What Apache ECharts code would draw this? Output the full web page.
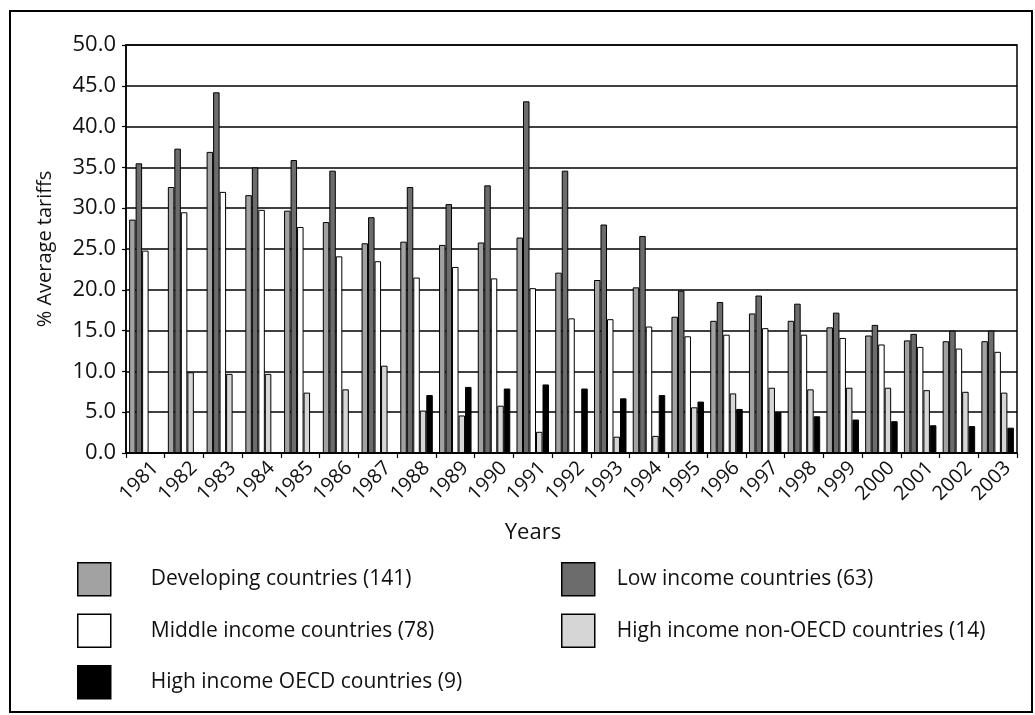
<!DOCTYPE html>
<html>
<head>
<meta charset="utf-8">
<script src="https://cdn.jsdelivr.net/npm/echarts@6/dist/echarts.min.js"></script>
<style>
html,body{margin:0;padding:0;background:#fff;}
#chart{width:1035px;height:715px;}
</style>
</head>
<body>
<div id="chart"></div>
<script>
var years = ['1981','1982','1983','1984','1985','1986','1987','1988','1989','1990','1991','1992','1993','1994','1995','1996','1997','1998','1999','2000','2001','2002','2003'];
var developing = [28.6, 32.6, 36.9, 31.6, 29.7, 28.3, 25.7, 25.9, 25.5, 25.8, 26.4, 22.1, 21.2, 20.3, 16.7, 16.2, 17.1, 16.2, 15.4, 14.4, 13.8, 13.7, 13.7];
var lowIncome = [35.5, 37.3, 44.2, 35.0, 35.9, 34.6, 28.9, 32.6, 30.5, 32.8, 43.1, 34.6, 28.0, 26.6, 19.9, 18.5, 19.3, 18.3, 17.2, 15.7, 14.6, 15.0, 15.0];
var middleIncome = [24.8, 29.5, 32.0, 29.8, 27.7, 24.1, 23.5, 21.5, 22.8, 21.4, 20.2, 16.5, 16.4, 15.5, 14.3, 14.5, 15.3, 14.5, 14.1, 13.3, 13.0, 12.8, 12.4];
var highNonOECD = [null, 9.9, 9.7, 9.7, 7.4, 7.8, 10.7, 5.2, 4.6, 5.8, 2.6, null, 2.0, 2.1, 5.6, 7.3, 8.0, 7.8, 8.0, 8.0, 7.7, 7.5, 7.4];
var highOECD = [null, null, null, null, null, null, null, 7.1, 8.1, 7.9, 8.4, 7.9, 6.7, 7.1, 6.3, 5.4, 5.0, 4.5, 4.1, 3.9, 3.4, 3.3, 3.1];
var seriesNames = ['Developing countries (141)', 'Low income countries (63)', 'Middle income countries (78)', 'High income non-OECD countries (14)', 'High income OECD countries (9)'];
var yTicks = ['0.0','5.0','10.0','15.0','20.0','25.0','30.0','35.0','40.0','45.0','50.0'];

var FONT = 'Open Sans';
var chart = echarts.init(document.getElementById('chart'), null, {renderer: 'canvas'});

function barSeries(name, data, fill) {
  return {
    name: name,
    type: 'bar',
    data: data,
    barWidth: 6.5,
    barGap: '0%',
    itemStyle: {color: fill, borderColor: '#000', borderWidth: 1},
    emphasis: {disabled: true},
    animation: false
  };
}

var option = {
  animation: false,
  backgroundColor: '#fff',
  grid: {left: 126, right: 18, top: 45, bottom: 262, show: true, borderColor: '#000', borderWidth: 1.5, backgroundColor: 'transparent'},
  xAxis: {
    type: 'category',
    data: years,
    name: 'Years',
    nameLocation: 'middle',
    nameGap: 69,
    nameTextStyle: {fontFamily: FONT, fontSize: 22, color: '#111', padding: [0, 77, 0, 0]},
    axisLine: {lineStyle: {color: '#000', width: 1.5}},
    axisTick: {show: true, length: 5, lineStyle: {color: '#000', width: 1.2}},
    axisLabel: {rotate: 45, fontFamily: FONT, fontSize: 20, color: '#111', margin: 2, interval: 0,
      verticalAlign: 'top', padding: [4, 0, 0, 0]}
  },
  yAxis: {
    type: 'value',
    min: 0, max: 50, interval: 5,
    name: '% Average tariffs',
    nameLocation: 'middle',
    nameRotate: 90,
    nameGap: 71,
    nameTextStyle: {fontFamily: FONT, fontSize: 20, color: '#111'},
    axisLine: {show: true, lineStyle: {color: '#000', width: 1.5}},
    axisTick: {show: true, length: 4, lineStyle: {color: '#000', width: 1.2}},
    axisLabel: {fontFamily: FONT, fontSize: 22, color: '#111', margin: 10,
      formatter: function (v) { return yTicks[Math.round(v / 5)]; }},
    splitLine: {show: true, lineStyle: {color: '#000', width: 1.5}}
  },
  legend: [
    {
      data: [seriesNames[0], seriesNames[2], seriesNames[4]],
      orient: 'vertical', left: 72, top: 557,
      icon: 'rect',
      itemWidth: 33, itemHeight: 33, itemGap: 17,
      selectedMode: false,
      itemStyle: {borderColor: '#000', borderWidth: 1.5},
      textStyle: {fontFamily: FONT, fontSize: 21, color: '#111', padding: [0, 0, 0, 35]}
    },
    {
      data: [seriesNames[1], seriesNames[3]],
      orient: 'vertical', left: 556, top: 557,
      icon: 'rect',
      itemWidth: 33, itemHeight: 33, itemGap: 17,
      selectedMode: false,
      itemStyle: {borderColor: '#000', borderWidth: 1.5},
      textStyle: {fontFamily: FONT, fontSize: 21, color: '#111', padding: [0, 0, 0, 17]}
    }
  ],
  graphic: [
    {type: 'rect', shape: {x: 10, y: 11, width: 1022, height: 701}, style: {fill: 'none', stroke: '#000', lineWidth: 2}, silent: true, z: 100}
  ],
  series: [
    barSeries(seriesNames[0], developing, '#a2a2a2'),
    barSeries(seriesNames[1], lowIncome, '#6c6c6c'),
    barSeries(seriesNames[2], middleIncome, '#ffffff'),
    barSeries(seriesNames[3], highNonOECD, '#d6d6d6'),
    barSeries(seriesNames[4], highOECD, '#000000')
  ]
};
chart.setOption(option);
</script>
</body>
</html>
